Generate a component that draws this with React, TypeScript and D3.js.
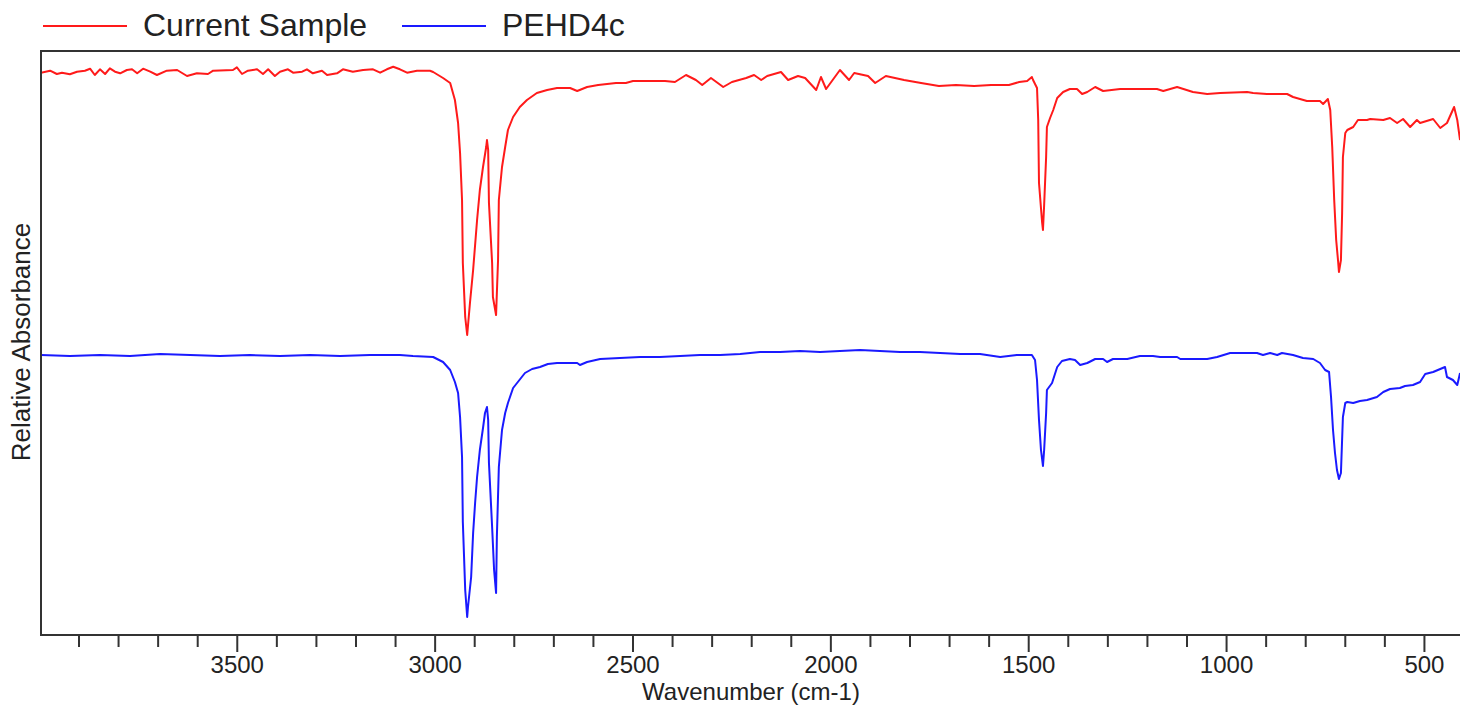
import React from "react";
import * as d3 from "d3";

// Wavenumber (cm-1) / relative absorbance (arbitrary units, baseline offset per sample)
const currentSampleWn = [
  3996, 3973, 3956, 3943, 3923, 3905, 3885, 3872, 3860, 3847, 3834, 3822, 3809, 3796, 3779, 3766, 3753, 3738, 3720, 3703,
  3678, 3652, 3627, 3602, 3574, 3561, 3511, 3501, 3488, 3473, 3450, 3435, 3422, 3405, 3392, 3372, 3359, 3336, 3324, 3309,
  3286, 3273, 3248, 3233, 3208, 3182, 3157, 3139, 3122, 3106, 3089, 3071, 3046, 3013, 3005, 2980, 2962, 2950, 2942, 2937,
  2932, 2930, 2924, 2919, 2912, 2904, 2894, 2887, 2879, 2871, 2869, 2866, 2864, 2856, 2854, 2846, 2841, 2839, 2831, 2823,
  2816, 2803, 2786, 2768, 2743, 2717, 2692, 2659, 2641, 2616, 2588, 2543, 2518, 2500, 2464, 2419, 2394, 2366, 2341, 2325,
  2303, 2272, 2250, 2214, 2194, 2176, 2161, 2126, 2108, 2083, 2065, 2037, 2025, 2012, 1977, 1954, 1941, 1906, 1888, 1861,
  1815, 1772, 1727, 1684, 1638, 1595, 1550, 1524, 1504, 1492, 1489, 1479, 1476, 1474, 1466, 1464, 1461, 1456, 1454, 1446,
  1438, 1428, 1413, 1396, 1378, 1365, 1352, 1332, 1312, 1269, 1176, 1160, 1125, 1085, 1049, 1016, 948, 933, 898, 847,
  832, 797, 764, 756, 744, 738, 733, 728, 723, 718, 716, 711, 708, 706, 700, 695, 680, 668, 645, 637,
  604, 587, 569, 554, 536, 519, 511, 478, 460, 443, 425, 417, 410,
];
const currentSampleAbs = [
  562.3, 564.3, 561, 562.3, 560.7, 563.3, 564.3, 566.3, 560, 565.7, 561, 566.7, 563.3, 561.7, 565, 565.7, 561.7, 566.3, 563.3, 560,
  564.3, 565, 559, 561.7, 561, 564.3, 565, 567.7, 561, 564.3, 565.7, 561, 565.7, 559, 563.3, 565.7, 562.3, 563.3, 565.7, 561.7,
  564.3, 560, 561.7, 565.7, 563.3, 565, 565.7, 562.3, 565.7, 568.3, 565.7, 562.3, 564.3, 564.3, 563, 557, 552, 535, 512, 482,
  435, 372, 318, 300, 332, 365, 415, 445, 468, 488, 495, 485, 432, 372, 338, 320, 375, 435, 468, 488,
  505, 518, 528, 535, 542, 545, 547, 547, 544, 548, 550, 552, 552, 554, 554, 554, 553, 560, 555, 550,
  557, 548, 553, 557, 560, 555, 559, 563, 555, 559, 557, 545, 558, 546, 565, 555, 562, 559, 552, 559,
  555, 552, 549, 550, 549, 550, 550, 553, 554, 558, 555, 547, 515, 452, 412, 405, 430, 478, 508, 517,
  525, 537, 543, 546, 546, 541, 543, 548, 544, 546, 546, 544, 548, 543, 541, 542, 543, 542, 541, 541,
  538, 534, 534, 531, 536, 525, 488, 435, 395, 373, 363, 375, 422, 478, 502, 505, 508, 515, 515, 516,
  515, 517, 512, 516, 508, 515, 512, 516, 507, 512, 528, 515, 495,
];

const pehdWn = [
  3996, 3923, 3847, 3771, 3695, 3619, 3544, 3468, 3392, 3316, 3240, 3165, 3089, 3056, 3005, 2980, 2962, 2950, 2942, 2937,
  2932, 2930, 2924, 2919, 2917, 2909, 2904, 2899, 2894, 2887, 2879, 2874, 2869, 2866, 2864, 2856, 2851, 2846, 2844, 2839,
  2831, 2823, 2816, 2803, 2791, 2773, 2755, 2735, 2715, 2692, 2641, 2634, 2616, 2583, 2533, 2482, 2432, 2381, 2331, 2280,
  2229, 2179, 2128, 2078, 2027, 1977, 1926, 1876, 1825, 1775, 1724, 1673, 1623, 1572, 1530, 1492, 1484, 1479, 1474, 1469,
  1464, 1461, 1456, 1454, 1441, 1428, 1416, 1396, 1383, 1370, 1352, 1332, 1312, 1302, 1287, 1251, 1219, 1186, 1168, 1125,
  1117, 1049, 1024, 991, 923, 908, 890, 872, 860, 832, 807, 781, 764, 751, 741, 736, 731, 726, 721, 716,
  711, 706, 700, 695, 680, 663, 645, 620, 604, 587, 562, 549, 529, 511, 498, 478, 448, 443, 428, 417, 410,
];
const pehdAbs = [
  280, 279, 280, 279, 281, 280, 279, 280, 279, 280, 279, 280, 280, 279, 278, 273, 265, 253, 242, 218,
  178, 113, 45, 18, 28, 58, 102, 132, 158, 185, 207, 222, 228, 215, 172, 108, 65, 42, 98, 168,
  205, 222, 232, 247, 253, 262, 266, 268, 271, 272, 272, 270, 273, 276, 277, 278, 278, 279, 280, 280,
  281, 283, 283, 284, 283, 284, 285, 284, 283, 283, 282, 281, 281, 278, 280, 280, 275, 255, 215, 185,
  169, 185, 222, 245, 252, 268, 274, 276, 275, 270, 272, 276, 276, 273, 276, 276, 279, 279, 278, 278,
  276, 276, 278, 282, 282, 280, 282, 280, 282, 280, 277, 276, 272, 265, 263, 238, 205, 182, 165, 156,
  162, 218, 232, 233, 232, 234, 235, 238, 243, 246, 247, 249, 250, 253, 261, 263, 268, 258, 255, 250, 262,
];

const seriesNames = ["Current Sample", "PEHD4c"];
const seriesColors = ["#ff1a1a", "#1a1aff"];
const majorTicks = [3500, 3000, 2500, 2000, 1500, 1000, 500];
const minorTicks = d3.range(3900, 399, -100);

const W = 1460;
const H = 707;
const left = 41;
const top = 51;
const bottom = 635;

export default function App() {
  const x = d3.scaleLinear().domain([3996, 400]).range([left, 1464]);
  const y = d3.scaleLinear().domain([0, 584]).range([bottom, top]);

  const series = [
    currentSampleWn.map((w, i) => [w, currentSampleAbs[i]] as [number, number]),
    pehdWn.map((w, i) => [w, pehdAbs[i]] as [number, number]),
  ];
  const line = d3
    .line<[number, number]>()
    .x((d) => x(d[0]))
    .y((d) => y(d[1]));

  const font = "'Liberation Sans', Arial, sans-serif";
  const axisColor = "#333";

  return (
    <svg
      width={W}
      height={H}
      style={{ position: "absolute", left: 0, top: 0, background: "#fff" }}
    >
      <defs>
        <clipPath id="plot">
          <rect x={left} y={top} width={W - left} height={bottom - top} />
        </clipPath>
      </defs>
      <rect x={0} y={0} width={W} height={H} fill="#fff" />

      {/* legend */}
      {seriesNames.map((name, i) => {
        const lx = i === 0 ? 43 : 402;
        return (
          <g key={name}>
            <line x1={lx} x2={lx + 84} y1={26} y2={26} stroke={seriesColors[i]} strokeWidth={2} />
            <text x={lx + 100} y={36} fontFamily={font} fontSize={32} fill="#222">
              {name}
            </text>
          </g>
        );
      })}

      {/* series */}
      <g clipPath="url(#plot)">
        {series.map((s, i) => (
          <path key={i} d={line(s) || ""} fill="none" stroke={seriesColors[i]} strokeWidth={2} strokeLinejoin="round" />
        ))}
      </g>

      {/* frame */}
      <line x1={left} x2={W} y1={top} y2={top} stroke={axisColor} strokeWidth={2} />
      <line x1={left} x2={left} y1={top - 1} y2={bottom + 1} stroke={axisColor} strokeWidth={2} />
      <line x1={left - 1} x2={W} y1={bottom} y2={bottom} stroke={axisColor} strokeWidth={2} />

      {/* ticks */}
      {minorTicks.map((t) => {
        const major = majorTicks.includes(t);
        return (
          <line
            key={t}
            x1={x(t)}
            x2={x(t)}
            y1={bottom}
            y2={bottom + (major ? 17 : 12)}
            stroke={axisColor}
            strokeWidth={2}
          />
        );
      })}
      {majorTicks.map((t) => (
        <text key={t} x={x(t)} y={673} textAnchor="middle" fontFamily={font} fontSize={24} fill="#222">
          {t}
        </text>
      ))}

      <text x={751} y={700} textAnchor="middle" fontFamily={font} fontSize={24} fill="#222">
        Wavenumber (cm-1)
      </text>
      <text
        transform="translate(30,342) rotate(-90)"
        textAnchor="middle"
        fontFamily={font}
        fontSize={26}
        fill="#222"
      >
        Relative Absorbance
      </text>
    </svg>
  );
}
